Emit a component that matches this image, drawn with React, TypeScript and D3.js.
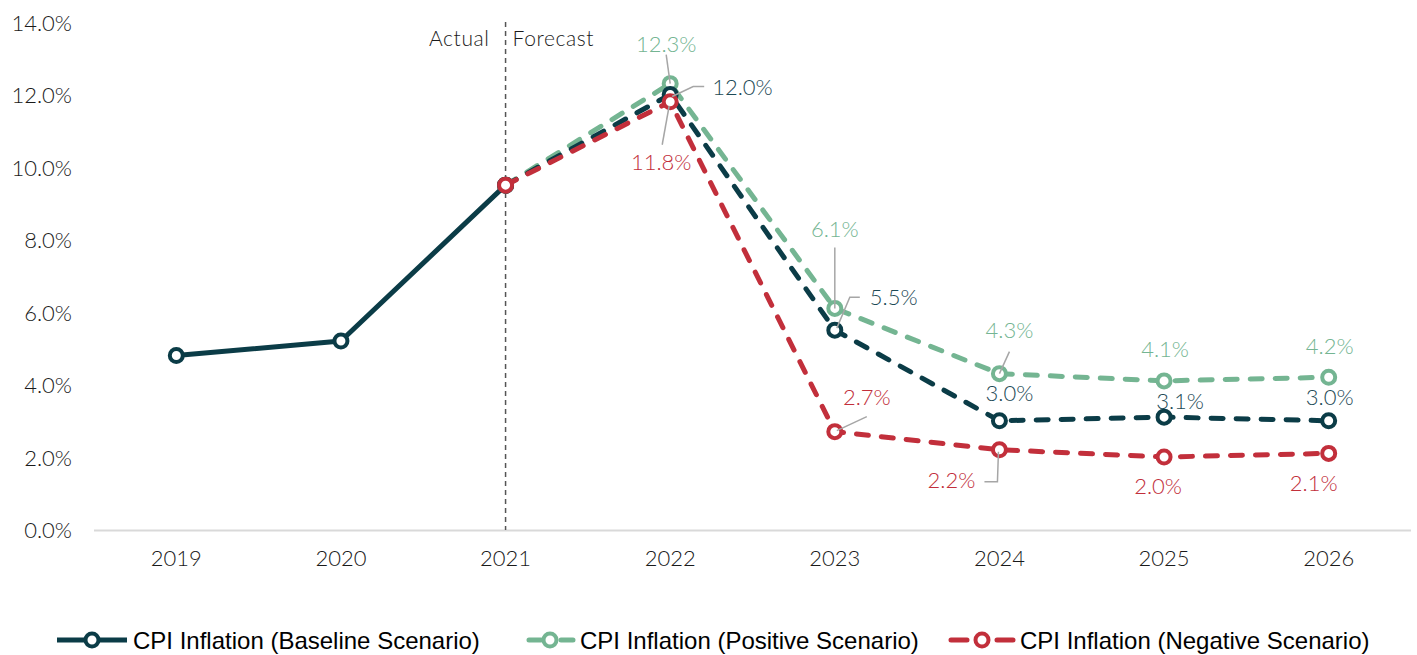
import React, { useEffect } from "react";
import * as d3 from "d3";

const years = ["2019", "2020", "2021", "2022", "2023", "2024", "2025", "2026"];
const baselineActual = [4.8, 5.2, 9.5];
const baselineForecast = [9.5, 12.0, 5.5, 3.0, 3.1, 3.0];
const positiveForecast = [9.5, 12.3, 6.1, 4.3, 4.1, 4.2];
const negativeForecast = [9.5, 11.8, 2.7, 2.2, 2.0, 2.1];
const yTicks = [0, 2, 4, 6, 8, 10, 12, 14];
const forecastYears = years.slice(2);
const actualYears = years.slice(0, 3);

const seriesNames = [
  "CPI Inflation (Baseline Scenario)",
  "CPI Inflation (Positive Scenario)",
  "CPI Inflation (Negative Scenario)",
];

const C_BASE = "#0b3c47";
const C_POS = "#74b592";
const C_NEG = "#c22f3b";
const C_LEADER = "#a6a6a6";

type Lab = { s: "b" | "p" | "n"; i: number; dx: number; dy: number; anchor: string; leader?: number[][] };
const labelLayout: Lab[] = [
  { s: "p", i: 1, dx: -4, dy: -40, anchor: "middle", leader: [[-4, -29], [0, 0]] },
  { s: "b", i: 1, dx: 42, dy: -8, anchor: "start", leader: [[34, -8], [23, -8], [2, 2]] },
  { s: "n", i: 1, dx: -9, dy: 60, anchor: "middle", leader: [[-1, 4], [-8, 43]] },
  { s: "p", i: 2, dx: 0, dy: -80, anchor: "middle", leader: [[0, -61], [0, 0]] },
  { s: "b", i: 2, dx: 35, dy: -34, anchor: "start", leader: [[25, -33], [15, -33], [2, -2]] },
  { s: "n", i: 2, dx: 32, dy: -35, anchor: "middle", leader: [[32, -15], [2, -1]] },
  { s: "p", i: 3, dx: 10, dy: -44, anchor: "middle", leader: [[10, -22], [0, 0]] },
  { s: "b", i: 3, dx: 10, dy: -28, anchor: "middle" },
  { s: "n", i: 3, dx: -48, dy: 30, anchor: "middle", leader: [[-15, 32], [-2, 32], [-1, 2]] },
  { s: "p", i: 4, dx: 1, dy: -32, anchor: "middle" },
  { s: "b", i: 4, dx: 16, dy: -17, anchor: "middle" },
  { s: "n", i: 4, dx: -6, dy: 28, anchor: "middle" },
  { s: "p", i: 5, dx: 1, dy: -32, anchor: "middle" },
  { s: "b", i: 5, dx: 1, dy: -24, anchor: "middle" },
  { s: "n", i: 5, dx: -15, dy: 29, anchor: "middle" },
];

const W = 1417;
const H = 655;

export default function App() {
  useEffect(() => {
    document.body.style.margin = "0";
  }, []);

  const x = d3.scaleBand<string>().domain(years).range([94, 1411]);
  const xc = (yr: string) => (x(yr) as number) + x.bandwidth() / 2;
  const y = d3.scaleLinear().domain([0, 14]).range([529.5, 22]);

  const line = d3
    .line<[string, number]>()
    .x((d) => xc(d[0]))
    .y((d) => y(d[1]));

  const zip = (ys: string[], vs: number[]) => ys.map((yr, i) => [yr, vs[i]] as [string, number]);

  const series = {
    p: { data: zip(forecastYears, positiveForecast), color: C_POS },
    b: { data: zip(forecastYears, baselineForecast), color: C_BASE },
    n: { data: zip(forecastYears, negativeForecast), color: C_NEG },
  };

  const tickFont = "Lato, 'DejaVu Sans', sans-serif";
  const tickWeight = 300;
  const dash = "12 13";

  const markers = (data: [string, number][], color: string, key: string) =>
    data.map((d, i) => (
      <circle key={key + i} cx={xc(d[0])} cy={y(d[1])} r={6.5} fill="#fff" stroke={color} strokeWidth={4} />
    ));

  const divX = xc("2021");

  return (
    <svg width={W} height={H} style={{ display: "block", background: "#fff" }}>
      <line x1={94} x2={1411} y1={y(0) + 1} y2={y(0) + 1} stroke="#d9d9d9" strokeWidth={2} />
      {yTicks.map((t) => (
        <text
          key={t}
          x={72}
          y={y(t)}
          textAnchor="end"
          dominantBaseline="central"
          fontFamily={tickFont}
          fontWeight={tickWeight}
          fontSize={22}
          fill="#1a1a1a"
        >
          {d3.format(".1f")(t) + "%"}
        </text>
      ))}
      {years.map((yr) => (
        <text
          key={yr}
          x={xc(yr)}
          y={557}
          textAnchor="middle"
          dominantBaseline="central"
          fontFamily={tickFont}
          fontWeight={tickWeight}
          fontSize={22}
          fill="#1a1a1a"
        >
          {yr}
        </text>
      ))}
      <line x1={divX} x2={divX} y1={22} y2={530} stroke="#555" strokeWidth={1.5} strokeDasharray="5 4" />
      <text x={divX - 16} y={37} textAnchor="end" dominantBaseline="central" fontFamily={tickFont} fontWeight={tickWeight} fontSize={21} letterSpacing={0.6} fill="#1a1a1a">
        Actual
      </text>
      <text x={divX + 7} y={37} textAnchor="start" dominantBaseline="central" fontFamily={tickFont} fontWeight={tickWeight} fontSize={21} letterSpacing={0.6} fill="#1a1a1a">
        Forecast
      </text>

      <path d={line(zip(actualYears, baselineActual)) as string} fill="none" stroke={C_BASE} strokeWidth={5} strokeLinejoin="round" />
      {markers(zip(actualYears, baselineActual), C_BASE, "ba")}

      {(["p", "b", "n"] as const).map((k) => (
        <g key={k}>
          <path
            d={line(series[k].data) as string}
            fill="none"
            stroke={series[k].color}
            strokeWidth={5}
            strokeDasharray={dash}
            strokeLinecap="round"
          />
          {markers(series[k].data, series[k].color, k)}
        </g>
      ))}

      {labelLayout
        .filter((l) => l.leader)
        .map((l, j) => {
          const d = series[l.s].data[l.i];
          const px = xc(d[0]);
          const py = y(d[1]);
          const pts = (l.leader as number[][]).map((p) => [px + p[0], py + p[1]] as [number, number]);
          return <path key={"ld" + j} d={d3.line()(pts) as string} fill="none" stroke={C_LEADER} strokeWidth={1.5} />;
        })}

      {labelLayout.map((l, j) => {
        const d = series[l.s].data[l.i];
        const px = xc(d[0]);
        const py = y(d[1]);
        const col = l.s === "b" ? "#1d4a56" : series[l.s].color;
        return (
          <text
            key={"lb" + j}
            x={px + l.dx}
            y={py + l.dy}
            textAnchor={l.anchor as any}
            dominantBaseline="central"
            fontFamily={tickFont}
            fontWeight={tickWeight}
            fontSize={22}
            fill={col}
          >
            {d3.format(".1f")(d[1]) + "%"}
          </text>
        );
      })}

      <g fontFamily="'Liberation Sans', Arial, sans-serif" fontSize={24} fill="#000">
        <line x1={57} x2={127} y1={640} y2={640} stroke={C_BASE} strokeWidth={5} />
        <circle cx={92} cy={640} r={6.5} fill="#fff" stroke={C_BASE} strokeWidth={4} />
        <text x={133} y={640} dominantBaseline="central">{seriesNames[0]}</text>

        <line x1={529} x2={573} y1={640} y2={640} stroke={C_POS} strokeWidth={5} strokeDasharray="12 20" strokeLinecap="round" />
        <circle cx={550} cy={640} r={6.5} fill="#fff" stroke={C_POS} strokeWidth={4} />
        <text x={580} y={640} dominantBaseline="central">{seriesNames[1]}</text>

        <line x1={951} x2={1013} y1={640} y2={640} stroke={C_NEG} strokeWidth={5} strokeDasharray="16 30" strokeLinecap="round" />
        <circle cx={982} cy={640} r={6.5} fill="#fff" stroke={C_NEG} strokeWidth={4} />
        <text x={1020} y={640} dominantBaseline="central">{seriesNames[2]}</text>
      </g>
    </svg>
  );
}
